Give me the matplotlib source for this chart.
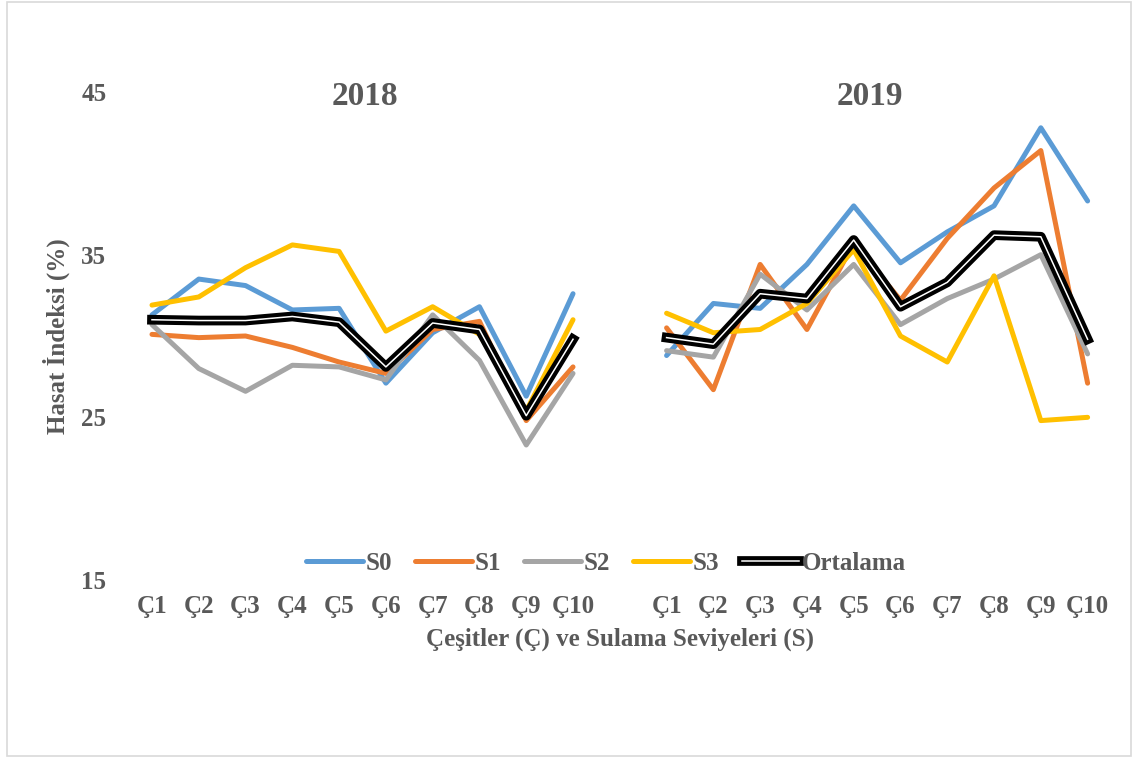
import matplotlib
matplotlib.use("Agg")
import matplotlib.pyplot as plt
import matplotlib.patheffects as pe
from matplotlib.patches import Rectangle

plt.rcParams['font.family'] = ['Liberation Serif', 'DejaVu Serif']
plt.rcParams['font.weight'] = 'bold'
plt.rcParams['axes.labelweight'] = 'bold'

cesitler = ["Ç1", "Ç2", "Ç3", "Ç4", "Ç5", "Ç6", "Ç7", "Ç8", "Ç9", "Ç10"]
yillar = ["2018", "2019"]

# 2018
s0_2018 = [31.3, 33.5, 33.1, 31.6, 31.7, 27.1, 30.2, 31.8, 26.3, 32.6]
s1_2018 = [30.1, 29.9, 30.0, 29.3, 28.4, 27.7, 30.4, 30.9, 24.8, 28.1]
s2_2018 = [30.7, 28.0, 26.6, 28.2, 28.1, 27.3, 31.3, 28.5, 23.3, 27.7]
s3_2018 = [31.9, 32.4, 34.2, 35.6, 35.2, 30.3, 31.8, 30.1, 25.4, 31.0]
ort_2018 = [31.0, 30.95, 30.95, 31.2, 30.85, 28.1, 30.8, 30.4, 25.1, 29.8]

# 2019
s0_2019 = [28.8, 32.0, 31.7, 34.4, 38.0, 34.5, 36.4, 38.0, 42.8, 38.3]
s1_2019 = [30.5, 26.7, 34.4, 30.4, 35.7, 32.2, 36.0, 39.1, 41.4, 27.1]
s2_2019 = [29.1, 28.7, 33.8, 31.6, 34.4, 30.7, 32.3, 33.5, 35.0, 28.9]
s3_2019 = [31.4, 30.2, 30.4, 32.0, 35.3, 30.0, 28.4, 33.7, 24.8, 25.0]
ort_2019 = [29.9, 29.5, 32.6, 32.3, 35.9, 31.8, 33.3, 36.2, 36.1, 29.8]

seriler = ["S0", "S1", "S2", "S3"]
renkler = ["#5B9BD5", "#ED7D31", "#A5A5A5", "#FFC000"]
veri_2018 = [s0_2018, s1_2018, s2_2018, s3_2018]
veri_2019 = [s0_2019, s1_2019, s2_2019, s3_2019]

yazi_rengi = "#595959"

W, H = 1136, 758
fig = plt.figure(figsize=(W / 100, H / 100), dpi=100)
fig.patches.append(Rectangle((7 / W, 2 / H), 1124 / W, 754 / H, transform=fig.transFigure,
                             fill=False, edgecolor="#D9D9D9", linewidth=1.2))

ax = fig.add_axes([128.6 / W, 1 - 580 / H, (1111 - 128.6) / W, (580 - 92) / H])

x1 = list(range(10))
x2 = list(range(11, 21))

for ad, renk, d1, d2 in zip(seriler, renkler, veri_2018, veri_2019):
    ax.plot(x1, d1, color=renk, lw=3.6, solid_joinstyle="round", solid_capstyle="round", label=ad)
    ax.plot(x2, d2, color=renk, lw=3.6, solid_joinstyle="round", solid_capstyle="round")

efekt = [pe.Stroke(linewidth=7, foreground="black"), pe.Normal()]
ax.plot(x1, ort_2018, color="white", lw=1.1, path_effects=efekt, label="Ortalama")
ax.plot(x2, ort_2019, color="white", lw=1.1, path_effects=efekt)

ax.set_xlim(-0.5, 20.5)
ax.set_ylim(15, 45)
ax.set_yticks([15, 25, 35, 45])
ax.set_xticks(x1 + x2)
ax.set_xticklabels(cesitler + cesitler)
ax.tick_params(length=0, labelsize=18, labelcolor=yazi_rengi)
ax.tick_params(axis="y", pad=16)
ax.tick_params(axis="x", pad=11)
for s in ax.spines.values():
    s.set_visible(False)

ax.text(4.55, 44.7, yillar[0], ha="center", va="center", fontsize=24, color=yazi_rengi, fontweight="bold")
ax.text(15.35, 44.7, yillar[1], ha="center", va="center", fontsize=24, color=yazi_rengi, fontweight="bold")

ax.set_xlabel("Çeşitler (Ç) ve Sulama Seviyeleri (S)", fontsize=18, color=yazi_rengi, labelpad=7)
ax.set_ylabel("Hasat İndeksi (%)", fontsize=18, color=yazi_rengi, labelpad=8)

fig.legend(loc="center", bbox_to_anchor=(606 / W, 1 - 563 / H), ncol=5, frameon=False,
           fontsize=18, handlelength=2.3, handletextpad=0.1, columnspacing=0.9,
           labelcolor=yazi_rengi)

fig.savefig("out.png", dpi=100)
